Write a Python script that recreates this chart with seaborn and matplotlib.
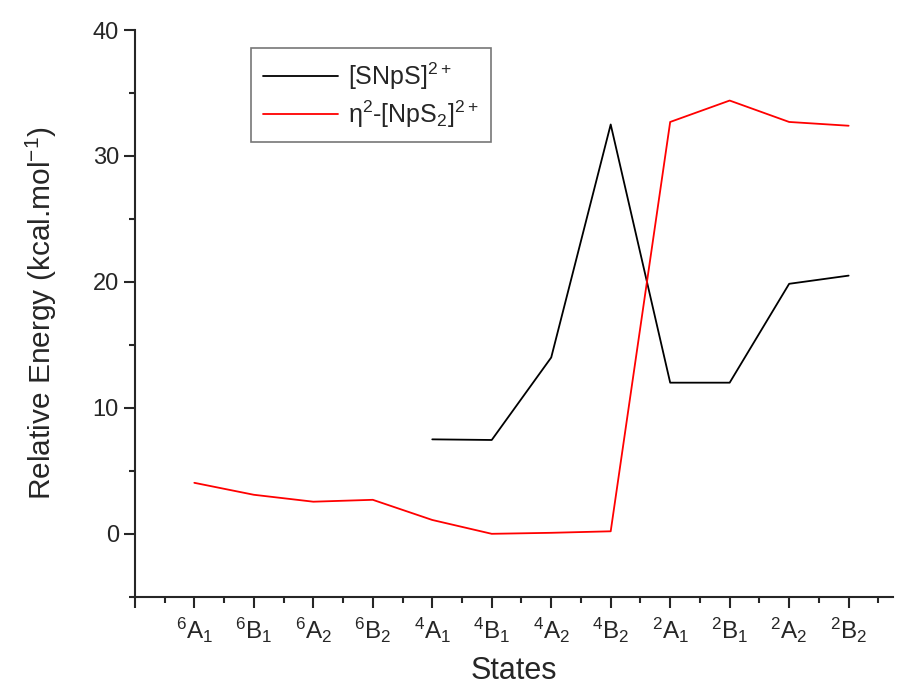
import numpy as np
import pandas as pd
import matplotlib
matplotlib.use("Agg")
import matplotlib.pyplot as plt
from matplotlib.ticker import MultipleLocator
import seaborn as sns

# Data
states = [r"$^{6}$A$_{1}$", r"$^{6}$B$_{1}$", r"$^{6}$A$_{2}$", r"$^{6}$B$_{2}$",
          r"$^{4}$A$_{1}$", r"$^{4}$B$_{1}$", r"$^{4}$A$_{2}$", r"$^{4}$B$_{2}$",
          r"$^{2}$A$_{1}$", r"$^{2}$B$_{1}$", r"$^{2}$A$_{2}$", r"$^{2}$B$_{2}$"]
snps = [np.nan, np.nan, np.nan, np.nan, 7.5, 7.45, 14.0, 32.5, 12.0, 12.0, 19.85, 20.5]
nps2 = [4.05, 3.1, 2.55, 2.7, 1.1, 0.0, 0.08, 0.2, 32.7, 34.4, 32.7, 32.4]

pos = np.arange(1, len(states) + 1)
df = pd.DataFrame({"pos": pos, "snps": snps, "nps2": nps2})

sns.set_style("ticks")
plt.rcParams["font.family"] = ["Liberation Sans", "DejaVu Sans"]
plt.rcParams["mathtext.fontset"] = "custom"
plt.rcParams["mathtext.rm"] = "Liberation Sans"
plt.rcParams["mathtext.it"] = "Liberation Sans:italic"
plt.rcParams["mathtext.bf"] = "Liberation Sans:bold"

fig = plt.figure(figsize=(9.05, 6.98), dpi=100)
ax = fig.add_axes([0.149, 0.145, 0.838, 0.812])

sns.lineplot(data=df.dropna(subset=["snps"]), x="pos", y="snps", ax=ax, color="black",
             linewidth=1.3, label=r"[SNpS]$^{2+}$")
sns.lineplot(data=df, x="pos", y="nps2", ax=ax, color="#ff0000",
             linewidth=1.3, label=r"η$^{2}$-[NpS$_{2}$]$^{2+}$")

ax.set_xlim(0, 12.75)
ax.set_ylim(-5, 40)
ax.set_xticks(np.arange(0, 13))
ax.set_xticklabels([""] + states, fontsize=17.5)
ax.xaxis.set_minor_locator(MultipleLocator(0.5))
ax.yaxis.set_major_locator(MultipleLocator(10))
ax.yaxis.set_minor_locator(MultipleLocator(5))
ax.tick_params(axis="y", labelsize=17)
ax.tick_params(which="major", direction="out", length=8, width=1.5)
ax.tick_params(which="minor", direction="out", length=4.5, width=1.5)
ax.tick_params(axis="x", pad=6)

sns.despine(ax=ax)
for s in ["left", "bottom"]:
    ax.spines[s].set_linewidth(1.5)

ax.set_xlabel("States", fontsize=22, labelpad=8)
ax.set_ylabel(r"Relative Energy (kcal.mol$^{-1}$)", fontsize=21.5, labelpad=24)

leg = ax.legend(loc="upper left", bbox_to_anchor=(0.153, 0.968), borderaxespad=0,
                fontsize=18, frameon=True, fancybox=False, handlelength=3.0,
                handletextpad=0.4, borderpad=0.5, labelspacing=0.25)
leg.get_frame().set_edgecolor("#555555")
leg.get_frame().set_linewidth(1.2)

plt.savefig("out.png", dpi=100)
